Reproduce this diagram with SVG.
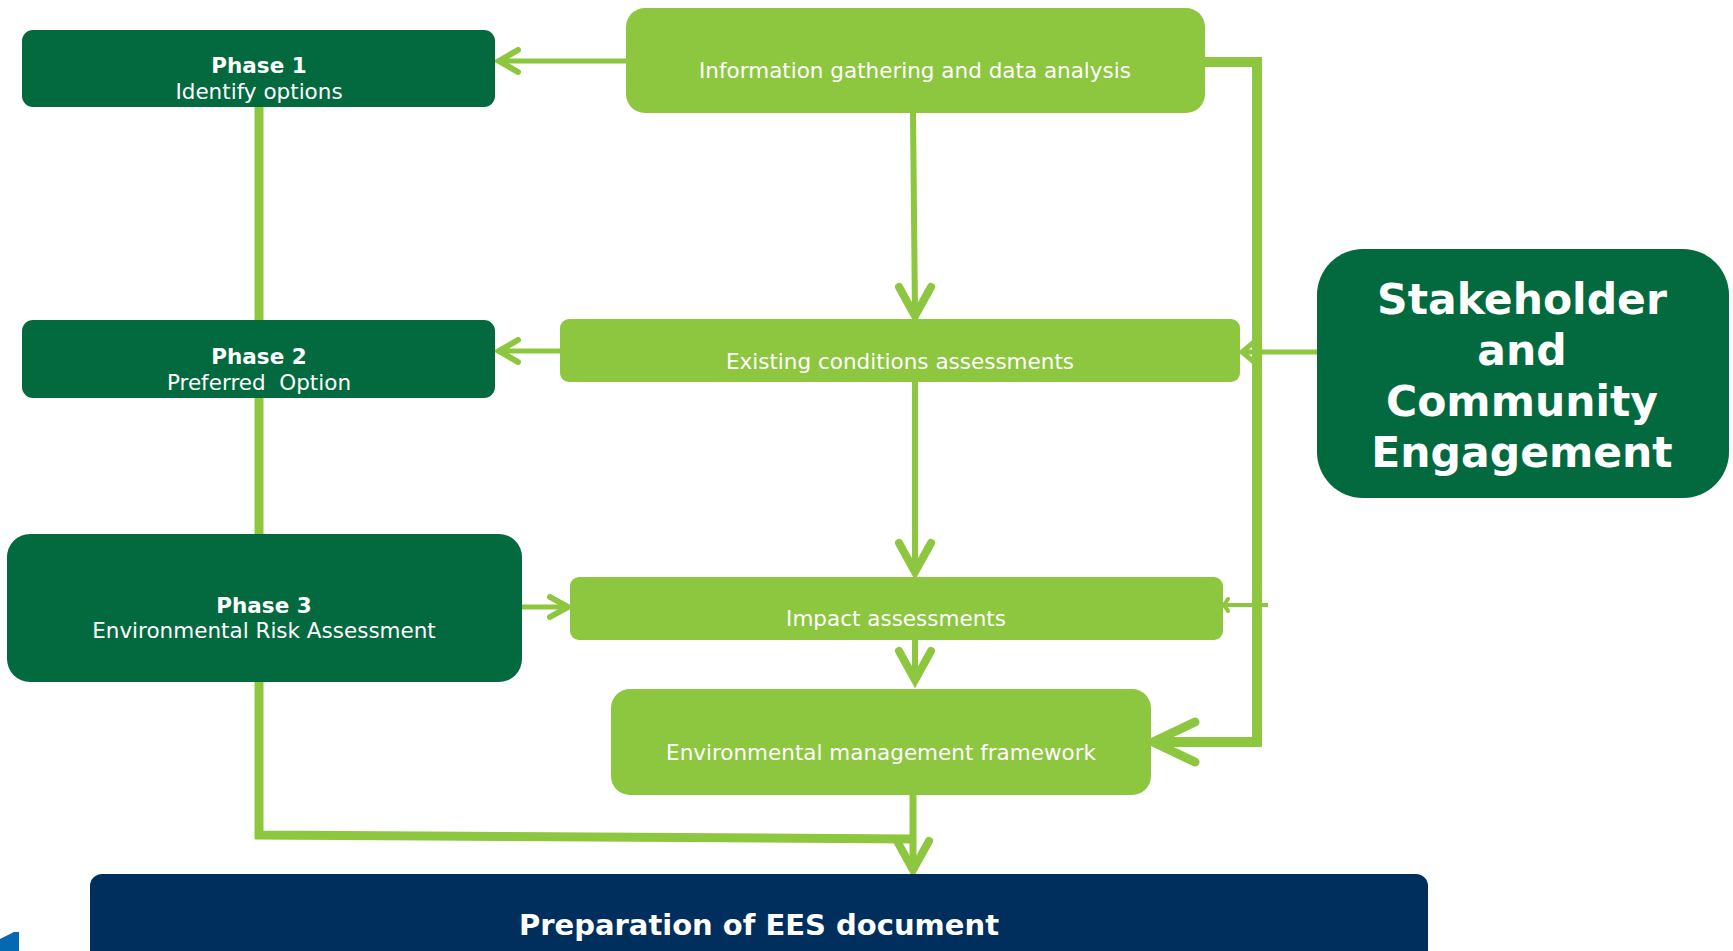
<svg xmlns="http://www.w3.org/2000/svg" width="1733" height="951" viewBox="0 0 1733 951">
  <style>
    .dark { fill: #026A3E; }
    .light { fill: #8DC63F; }
    .navy { fill: #002F5E; }
    .t { font-family: "DejaVu Sans", Verdana, sans-serif; fill: #FFFFFF; text-anchor: middle; white-space: pre; }
    .reg { font-size: 21.5px; }
    .bold { font-size: 21.5px; font-weight: bold; }
    .big { font-size: 42.5px; font-weight: bold; }
    .doc { font-size: 29px; font-weight: bold; }
    .wire { fill: none; stroke: #8DC63F; stroke-linecap: butt; stroke-linejoin: miter; }
    .head { fill: none; stroke: #8DC63F; stroke-linecap: round; stroke-linejoin: miter; }
  </style>

  <rect width="1733" height="951" fill="#FFFFFF"/>

  <!-- connectors -->
  <g id="connectors">
    <!-- phase spine -->
    <line class="wire" x1="259" y1="107" x2="259" y2="320" stroke-width="9"/>
    <line class="wire" x1="259" y1="398" x2="259" y2="534" stroke-width="9"/>
    <path class="wire" d="M259 682 V835 L913 839" stroke-width="9"/>

    <!-- info to phase 1 -->
    <line class="wire" x1="626" y1="61" x2="500" y2="61" stroke-width="5"/>
    <path class="head" d="M518 50 L499 61 L518 72" stroke-width="6"/>

    <!-- existing conditions to phase 2 -->
    <line class="wire" x1="560" y1="351" x2="500" y2="351" stroke-width="5"/>
    <path class="head" d="M518 340 L499 351 L518 362" stroke-width="6"/>

    <!-- phase 3 to impact -->
    <line class="wire" x1="522" y1="607" x2="566" y2="607" stroke-width="5"/>
    <path class="head" d="M550 597 L568 607 L550 617" stroke-width="6"/>

    <!-- info down to existing conditions -->
    <line class="wire" x1="913" y1="113" x2="915" y2="314" stroke-width="6"/>
    <path class="head" d="M899 287 L915 316 L931 287" stroke-width="8"/>

    <!-- existing conditions down to impact -->
    <line class="wire" x1="915" y1="382" x2="915" y2="570" stroke-width="6"/>
    <path class="head" d="M899 543 L915 572 L931 543" stroke-width="8"/>

    <!-- impact down to management framework -->
    <line class="wire" x1="915" y1="640" x2="915" y2="678" stroke-width="6"/>
    <path class="head" d="M899 651 L915 680 L931 651" stroke-width="8"/>

    <!-- management framework down to EES document -->
    <line class="wire" x1="913" y1="795" x2="913" y2="868" stroke-width="7"/>
    <path class="head" d="M897 841 L913 870 L929 841" stroke-width="8"/>

    <!-- stakeholder feed to existing conditions -->
    <line class="wire" x1="1317" y1="352" x2="1242" y2="352" stroke-width="5"/>
    <path class="head" d="M1254 342 L1242 352 L1254 362" stroke-width="5"/>

    <!-- stub into impact -->
    <line class="wire" x1="1223" y1="605" x2="1268" y2="605" stroke-width="4"/>
    <path class="head" d="M1228 599 L1224 605 L1228 611" stroke-width="4"/>

    <!-- bus from info to management framework -->
    <path class="wire" d="M1205 62 H1257 V742 H1160" stroke-width="10"/>
    <path class="head" d="M1195 722 L1153 742 L1195 762" stroke-width="9"/>
  </g>

  <!-- Phase 1 -->
  <g id="phase1">
    <rect class="dark" x="22" y="30" width="473" height="77" rx="11"/>
    <text class="t bold" x="259" y="72.5">Phase 1</text>
    <text class="t reg" x="259" y="98.5">Identify options</text>
  </g>

  <!-- Phase 2 -->
  <g id="phase2">
    <rect class="dark" x="22" y="320" width="473" height="78" rx="11"/>
    <text class="t bold" x="259" y="363.5">Phase 2</text>
    <text class="t reg" x="259" y="389.5">Preferred  Option</text>
  </g>

  <!-- Phase 3 -->
  <g id="phase3">
    <rect class="dark" x="7" y="534" width="515" height="148" rx="23"/>
    <text class="t bold" x="264" y="612.5">Phase 3</text>
    <text class="t reg" x="264" y="637.5">Environmental Risk Assessment</text>
  </g>

  <!-- Information gathering -->
  <g id="info">
    <rect class="light" x="626" y="8" width="579" height="105" rx="19"/>
    <text class="t reg" x="915" y="77.5">Information gathering and data analysis</text>
  </g>

  <!-- Existing conditions -->
  <g id="existing">
    <rect class="light" x="560" y="319" width="680" height="63" rx="9"/>
    <text class="t reg" x="900" y="368.5">Existing conditions assessments</text>
  </g>

  <!-- Impact assessments -->
  <g id="impact">
    <rect class="light" x="570" y="577" width="653" height="63" rx="9"/>
    <text class="t reg" x="896" y="625.5">Impact assessments</text>
  </g>

  <!-- Environmental management framework -->
  <g id="emf">
    <rect class="light" x="611" y="689" width="540" height="106" rx="19"/>
    <text class="t reg" x="881" y="759.5">Environmental management framework</text>
  </g>

  <!-- Stakeholder and Community Engagement -->
  <g id="stakeholder">
    <rect class="dark" x="1317" y="249" width="412" height="249" rx="46"/>
    <text class="t big" x="1522" y="314">Stakeholder</text>
    <text class="t big" x="1522" y="365">and</text>
    <text class="t big" x="1522" y="416">Community</text>
    <text class="t big" x="1522" y="467">Engagement</text>
  </g>

  <!-- Preparation of EES document -->
  <g id="ees">
    <rect class="navy" x="90" y="874" width="1338" height="110" rx="12"/>
    <text class="t doc" x="759" y="935">Preparation of EES document</text>
  </g>

  <!-- corner tab -->
  <g id="corner-tab">
    <path d="M0 939 L14 932 H19 V951 H0 Z" fill="#0469B0"/>
  </g>
</svg>
